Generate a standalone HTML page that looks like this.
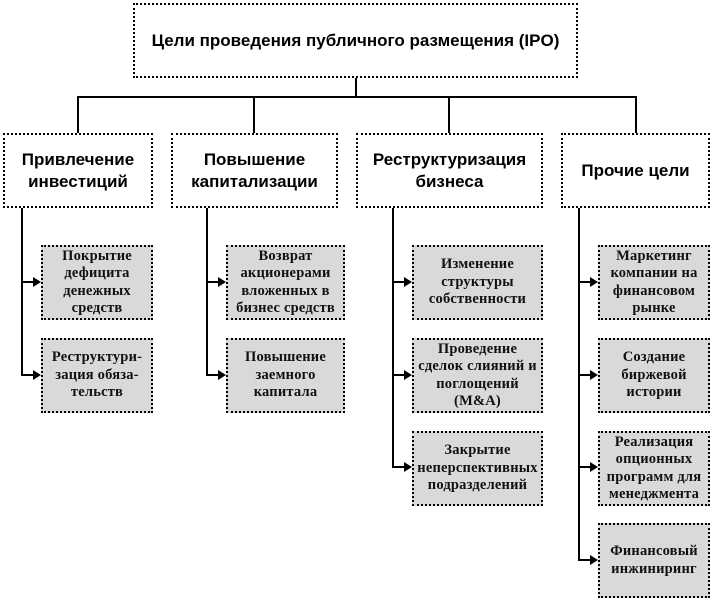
<!DOCTYPE html>
<html><head><meta charset="utf-8"><style>
body{margin:0;width:713px;height:602px;background:#fff;position:relative;overflow:hidden}
.b{position:absolute;box-sizing:border-box;display:flex;align-items:center;justify-content:center;text-align:center}
.h{border:2px dotted #000;background:#fff;font:bold 17px/22px "Liberation Sans",sans-serif}
.c{border:2px dotted #000;background:#d9d9d9;font:bold 14.5px/17.5px "Liberation Serif",serif;color:#111;letter-spacing:0.2px}
.l{position:absolute;background:#000}
.a{position:absolute;width:0;height:0;border-top:5px solid transparent;border-bottom:5px solid transparent;border-left:8px solid #000}
</style></head><body>
<div class="b h" style="left:133px;top:3px;width:445px;height:75px">Цели проведения публичного размещения (IPO)</div>
<div class="l" style="left:355px;top:78px;width:2px;height:19px"></div>
<div class="l" style="left:77px;top:96px;width:560px;height:2px"></div>
<div class="l" style="left:77px;top:96px;width:2px;height:37px"></div>
<div class="l" style="left:253px;top:96px;width:2px;height:37px"></div>
<div class="l" style="left:448px;top:96px;width:2px;height:37px"></div>
<div class="l" style="left:635px;top:96px;width:2px;height:37px"></div>

<div class="b h" style="left:3px;top:133px;width:150px;height:75px">Привлечение<br>инвестиций</div>
<div class="b h" style="left:171px;top:133px;width:167px;height:75px">Повышение<br>капитализации</div>
<div class="b h" style="left:356px;top:133px;width:187px;height:75px">Реструктуризация<br>бизнеса</div>
<div class="b h" style="left:561px;top:133px;width:149px;height:75px">Прочие цели</div>

<div class="l" style="left:21px;top:208px;width:2px;height:168px"></div>
<div class="l" style="left:206px;top:208px;width:2px;height:168px"></div>
<div class="l" style="left:392px;top:208px;width:2px;height:260px"></div>
<div class="l" style="left:578px;top:208px;width:2px;height:353px"></div>

<div class="l" style="left:21px;top:281px;width:14px;height:2px"></div><div class="a" style="left:33px;top:277px"></div>
<div class="l" style="left:21px;top:374px;width:14px;height:2px"></div><div class="a" style="left:33px;top:370px"></div>
<div class="l" style="left:206px;top:281px;width:14px;height:2px"></div><div class="a" style="left:218px;top:277px"></div>
<div class="l" style="left:206px;top:374px;width:14px;height:2px"></div><div class="a" style="left:218px;top:370px"></div>
<div class="l" style="left:392px;top:281px;width:14px;height:2px"></div><div class="a" style="left:404px;top:277px"></div>
<div class="l" style="left:392px;top:374px;width:14px;height:2px"></div><div class="a" style="left:404px;top:370px"></div>
<div class="l" style="left:392px;top:466px;width:14px;height:2px"></div><div class="a" style="left:404px;top:462px"></div>
<div class="l" style="left:578px;top:281px;width:14px;height:2px"></div><div class="a" style="left:590px;top:277px"></div>
<div class="l" style="left:578px;top:374px;width:14px;height:2px"></div><div class="a" style="left:590px;top:370px"></div>
<div class="l" style="left:578px;top:466px;width:14px;height:2px"></div><div class="a" style="left:590px;top:462px"></div>
<div class="l" style="left:578px;top:559px;width:14px;height:2px"></div><div class="a" style="left:590px;top:555px"></div>

<div class="b c" style="left:41px;top:245px;width:112px;height:75px">Покрытие<br>дефицита<br>денежных<br>средств</div>
<div class="b c" style="left:41px;top:338px;width:112px;height:75px">Реструктури-<br>зация обяза-<br>тельств</div>
<div class="b c" style="left:226px;top:245px;width:119px;height:75px">Возврат<br>акционерами<br>вложенных в<br>бизнес средств</div>
<div class="b c" style="left:226px;top:338px;width:119px;height:75px">Повышение<br>заемного<br>капитала</div>
<div class="b c" style="left:412px;top:245px;width:131px;height:75px">Изменение<br>структуры<br>собственности</div>
<div class="b c" style="left:412px;top:338px;width:131px;height:75px">Проведение<br>сделок слияний и<br>поглощений<br>(M&amp;A)</div>
<div class="b c" style="left:412px;top:431px;width:131px;height:75px">Закрытие<br>неперспективных<br>подразделений</div>
<div class="b c" style="left:598px;top:245px;width:112px;height:75px">Маркетинг<br>компании на<br>финансовом<br>рынке</div>
<div class="b c" style="left:598px;top:338px;width:112px;height:75px">Создание<br>биржевой<br>истории</div>
<div class="b c" style="left:598px;top:431px;width:112px;height:75px">Реализация<br>опционных<br>программ для<br>менеджмента</div>
<div class="b c" style="left:598px;top:523px;width:112px;height:75px">Финансовый<br>инжиниринг</div>
</body></html>
